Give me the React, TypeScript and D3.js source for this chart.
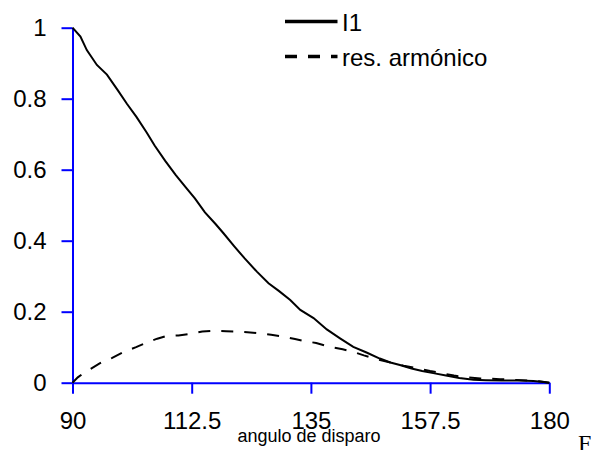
import React, { Component } from "react";
import * as d3 from 'd3';

// angulo de disparo (grados) vs I1 (p.u.)
const i1Data: [number, number][] = [
    [90, 1.0], [91.5, 0.975], [92.7, 0.937], [94.6, 0.895], [96.5, 0.868], [98.5, 0.825],
    [100.3, 0.785], [102.1, 0.748], [104, 0.705], [105.5, 0.668], [107.5, 0.625], [109.5, 0.585],
    [111.5, 0.548], [113.1, 0.519], [115, 0.48], [117, 0.447], [118.5, 0.421], [120.5, 0.385],
    [122.5, 0.35], [124.8, 0.313], [127, 0.28], [129, 0.258], [131.1, 0.233], [133, 0.205],
    [135.5, 0.182], [138, 0.150], [140.5, 0.125], [143, 0.101], [145.5, 0.085], [148, 0.068],
    [150, 0.057], [151.8, 0.050], [154, 0.040], [156, 0.033], [158.1, 0.027], [160.5, 0.020],
    [163, 0.013], [165.7, 0.008], [168, 0.007], [171, 0.006], [174, 0.006], [177, 0.005],
    [179, 0.002], [180, 0]
];

// residuo armonico
const harmData: [number, number][] = [
    [90, 0], [91, 0.015], [92, 0.026], [95.2, 0.055], [97.5, 0.07], [99.6, 0.086], [102, 0.10],
    [104, 0.113], [106, 0.124], [107.8, 0.132], [110, 0.133], [112.8, 0.139], [114.5, 0.144],
    [116.6, 0.146], [119, 0.145], [121, 0.144], [123, 0.142], [125.4, 0.139], [127.5, 0.135],
    [129.8, 0.13], [132, 0.123], [134.2, 0.116], [136, 0.112], [138.6, 0.101], [141, 0.094],
    [143, 0.087], [145, 0.077], [147.4, 0.066], [150, 0.057], [152.5, 0.048], [155, 0.041],
    [157.5, 0.033], [160, 0.026], [162, 0.02], [164.4, 0.015], [167, 0.012], [170.7, 0.010],
    [173.5, 0.008], [176.4, 0.006], [178, 0.004], [180, 0]
];

const xTicks = [90, 112.5, 135, 157.5, 180];
const yTicks = [0, 0.2, 0.4, 0.6, 0.8, 1];
const legendLabels = ['I1', 'res. armónico'];

class App extends Component {
    chartRef = React.createRef<SVGSVGElement>();

    componentDidMount() {
        const w = 591;
        const h = 450;
        const font = '"Liberation Sans", Arial, sans-serif';
        const blue = '#0000ff';

        const xScale = d3.scaleLinear().domain([90, 180]).range([72.5, 549.3]);
        const yScale = d3.scaleLinear().domain([0, 1]).range([382.7, 27.7]);

        const svg = d3.select(this.chartRef.current)
            .attr('width', w)
            .attr('height', h);
        svg.selectAll('*').remove();

        svg.append('rect').attr('width', w).attr('height', h).attr('fill', 'white');

        // y axis
        const yAxis = svg.append('g')
            .attr('transform', `translate(${xScale(90)},0)`)
            .call(d3.axisLeft(yScale).tickValues(yTicks).tickSize(11).tickSizeOuter(0)
                .tickPadding(15).tickFormat(d => String(d)));
        yAxis.select('.domain').attr('stroke', blue).attr('stroke-width', 2);
        yAxis.selectAll('.tick line').attr('stroke', blue).attr('stroke-width', 2);
        yAxis.selectAll('.tick text')
            .attr('font-family', font).attr('font-size', 24).attr('fill', 'black');

        // x axis
        const xAxis = svg.append('g')
            .attr('transform', `translate(0,${yScale(0)})`)
            .call(d3.axisBottom(xScale).tickValues(xTicks).tickSize(11).tickSizeOuter(0)
                .tickFormat(d => String(d)));
        xAxis.select('.domain').attr('stroke', blue).attr('stroke-width', 2);
        xAxis.selectAll('.tick line').attr('stroke', blue).attr('stroke-width', 2);
        xAxis.selectAll('.tick text')
            .attr('font-family', font).attr('font-size', 24).attr('fill', 'black')
            .attr('y', 46).attr('dy', 0);

        const line = d3.line<[number, number]>()
            .x(d => xScale(d[0]))
            .y(d => yScale(d[1]));

        svg.append('path')
            .datum(harmData)
            .attr('d', line)
            .attr('fill', 'none')
            .attr('stroke', 'black')
            .attr('stroke-width', 2)
            .attr('stroke-dasharray', '12,11');

        svg.append('path')
            .datum(i1Data)
            .attr('d', line)
            .attr('fill', 'none')
            .attr('stroke', 'black')
            .attr('stroke-width', 2);

        // legend
        const legend = svg.append('g');
        legendLabels.forEach((label, i) => {
            const ly = 21.5 + i * 35;
            legend.append('line')
                .attr('x1', 285).attr('x2', 337.5)
                .attr('y1', ly).attr('y2', ly)
                .attr('stroke', 'black')
                .attr('stroke-width', 3.5)
                .attr('stroke-dasharray', i === 1 ? '12,11' : null);
            legend.append('text')
                .attr('x', 342)
                .attr('y', ly + 9)
                .attr('font-family', font)
                .attr('font-size', 24)
                .text(label);
        });

        svg.append('text')
            .attr('x', 309)
            .attr('y', 442)
            .attr('text-anchor', 'middle')
            .attr('font-family', font)
            .attr('font-size', 18)
            .text('angulo de disparo');

        svg.append('text')
            .attr('x', 578)
            .attr('y', 451)
            .attr('font-family', '"Liberation Serif", "Times New Roman", serif')
            .attr('font-size', 24)
            .text('F');
    }

    render() {
        return (
            <svg ref={this.chartRef} style={{ position: 'absolute', left: 0, top: 0, display: 'block' }}></svg>
        )
    }
}

export default App;
